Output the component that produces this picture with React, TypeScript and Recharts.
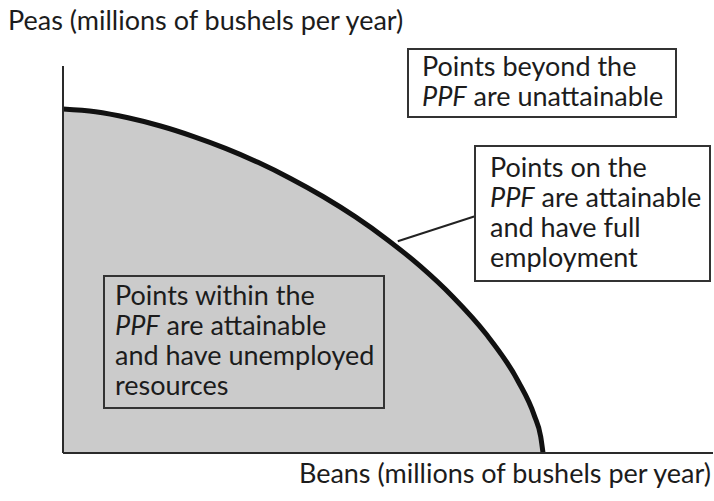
import { ComposedChart, Area, XAxis, YAxis, ReferenceLine } from "recharts";

// beans (x) vs peas (y)
const beans = [0, 1, 2, 3, 4, 5, 6, 7, 8, 9, 10, 11, 12, 13, 14, 14.5, 14.7, 14.77];
const peas = [16, 15.87, 15.59, 15.21, 14.73, 14.17, 13.52, 12.77, 11.93, 10.98, 9.9, 8.68, 7.26, 5.57, 3.35, 1.75, 0.75, 0];

const xLabel = "Beans (millions of bushels per year)";
const yLabel = "Peas (millions of bushels per year)";

const boxBeyond = ["Points beyond the", "|PPF| are unattainable"];
const boxOn = ["Points on the", "|PPF| are attainable", "and have full", "employment"];
const boxWithin = ["Points within the", "|PPF| are attainable", "and have unemployed", "resources"];

const data = beans.map((b, i) => ({ beans: b, peas: peas[i] }));

const font = "Lato, 'Open Sans', sans-serif";
const ink = "#1c1c1c";

function TextLine({ text }: { text: string }) {
  if (text.startsWith("|")) {
    const [, it, rest] = text.split("|");
    return (
      <div>
        <i>{it}</i>
        {rest}
      </div>
    );
  }
  return <div>{text}</div>;
}

function Box({ lines, style }: { lines: string[]; style: React.CSSProperties }) {
  return (
    <div
      style={{
        position: "absolute",
        border: "2px solid #333",
        boxSizing: "border-box",
        lineHeight: "30px",
        fontSize: 27,
        color: ink,
        fontFamily: font,
        whiteSpace: "nowrap",
        ...style,
      }}
    >
      {lines.map((l) => (
        <TextLine key={l} text={l} />
      ))}
    </div>
  );
}

export default function App() {
  return (
    <div style={{ position: "absolute", left: 0, top: 0, width: 714, height: 501, background: "#fff", fontFamily: font }}>
      <ComposedChart width={714} height={501} data={data} margin={{ top: 66, right: 1, left: 62, bottom: 47 }}>
        <Area
          type="monotone"
          dataKey="peas"
          stroke="#111"
          strokeWidth={5}
          fill="#cbcbcb"
          fillOpacity={1}
          isAnimationActive={false}
          dot={false}
          activeDot={false}
        />
        <XAxis
          dataKey="beans"
          type="number"
          domain={[0, 20]}
          tick={false}
          tickLine={false}
          axisLine={{ stroke: "#2a2a2a", strokeWidth: 2 }}
          height={1}
        />
        <YAxis
          type="number"
          domain={[0, 18]}
          tick={false}
          tickLine={false}
          axisLine={{ stroke: "#2a2a2a", strokeWidth: 2 }}
          width={1}
        />
        <ReferenceLine
          segment={[
            { x: 10.3, y: 9.85 },
            { x: 12.65, y: 11.0 },
          ]}
          stroke="#222"
          strokeWidth={2}
          ifOverflow="visible"
        />
      </ComposedChart>
      <div style={{ position: "absolute", left: 8, top: 5, fontSize: 27, lineHeight: "30px", color: ink, whiteSpace: "nowrap" }}>{yLabel}</div>
      <div style={{ position: "absolute", right: 3, top: 458, fontSize: 27, lineHeight: "30px", color: ink, whiteSpace: "nowrap" }}>{xLabel}</div>
      <Box lines={boxBeyond} style={{ left: 407, top: 48, width: 270, height: 70, padding: "1px 0 0 13px" }} />
      <Box lines={boxOn} style={{ left: 474, top: 145, width: 237, height: 137, padding: "5px 0 0 14px", background: "#fff" }} />
      <Box lines={boxWithin} style={{ left: 103, top: 275, width: 282, height: 134, padding: "3px 0 0 10px" }} />
    </div>
  );
}
